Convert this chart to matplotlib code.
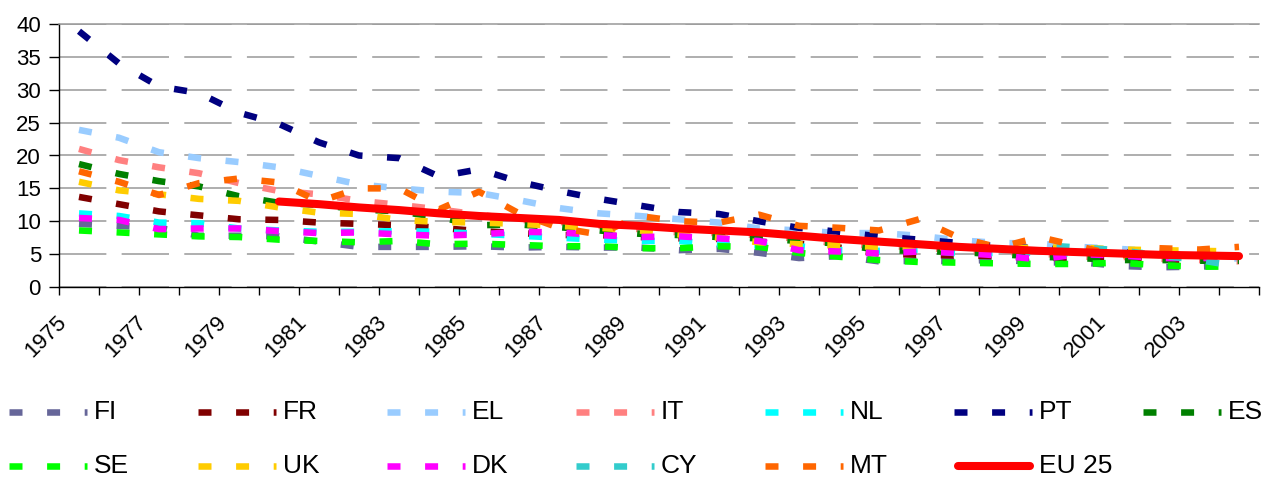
import numpy as np
import matplotlib
matplotlib.use("Agg")
import matplotlib.pyplot as plt
import matplotlib.transforms as mtrans
from matplotlib.lines import Line2D

plt.rcParams['font.family'] = ['Liberation Sans', 'DejaVu Sans']

years = list(range(1975, 2005))

FI = [9.6, 9.3, 9.0, 7.8, 7.8, 7.7, 6.9, 6.1, 6.1, 6.1, 6.2, 6.0, 6.1, 6.0, 6.0,
      5.6, 5.8, 5.2, 4.4, 4.7, 3.9, 4.0, 3.9, 4.2, 3.7, 3.8, 3.2, 3.0, 3.1, 3.3]
FR = [13.7, 12.6, 11.5, 10.9, 10.3, 10.2, 9.8, 9.6, 9.4, 9.0, 8.5, 8.2, 7.9, 7.9, 7.6,
      7.4, 7.3, 6.9, 6.6, 6.0, 5.1, 4.9, 4.8, 4.7, 4.4, 4.5, 4.5, 4.2, 4.1, 4.0]
EL = [23.9, 22.7, 20.5, 19.6, 19.0, 18.2, 16.9, 15.6, 15.0, 14.5, 14.3, 13.2, 12.0, 11.2, 10.8,
      10.3, 9.8, 8.9, 8.6, 8.2, 8.2, 7.8, 7.1, 6.7, 6.6, 6.1, 5.8, 5.4, 4.8, 4.3]
IT = [21.0, 19.3, 18.2, 17.3, 15.8, 14.6, 14.1, 13.1, 12.5, 11.8, 11.0, 10.2, 9.9, 9.3, 8.8,
      8.3, 8.2, 7.9, 7.3, 6.6, 6.2, 6.1, 5.5, 5.4, 5.1, 4.6, 4.6, 4.3, 4.1, 3.9]
NL = [11.2, 10.8, 9.8, 9.7, 8.9, 8.6, 8.4, 8.4, 8.5, 8.4, 8.1, 7.8, 7.5, 7.2, 7.0,
      7.0, 6.5, 6.3, 6.2, 5.6, 5.5, 5.7, 5.1, 5.2, 5.2, 5.1, 5.4, 5.0, 4.8, 4.4]
PT = [38.9, 34.0, 30.5, 29.5, 26.5, 24.8, 22.0, 20.0, 19.6, 16.8, 17.9, 16.0, 14.6, 13.4, 12.4,
      11.4, 11.1, 10.0, 9.0, 8.4, 7.7, 7.2, 6.7, 6.2, 5.9, 5.6, 5.3, 5.2, 4.6, 4.4]
ES = [18.7, 17.2, 16.1, 15.3, 13.8, 12.8, 12.5, 11.8, 11.5, 10.6, 9.4, 9.5, 9.1, 8.6, 8.1,
      7.9, 7.6, 7.4, 7.0, 6.6, 5.6, 5.5, 5.3, 5.0, 4.6, 4.4, 4.1, 4.1, 4.0, 4.0]
SE = [8.6, 8.3, 8.0, 7.7, 7.6, 7.2, 7.0, 6.8, 7.0, 6.5, 6.6, 6.4, 6.2, 6.2, 5.9,
      5.9, 6.2, 6.1, 5.2, 4.6, 4.1, 3.8, 3.7, 3.6, 3.5, 3.5, 3.7, 3.3, 3.1, 3.1]
UK = [16.0, 14.7, 14.1, 13.4, 13.1, 12.1, 11.3, 11.1, 10.2, 9.9, 9.8, 9.6, 9.3, 9.0, 8.6,
      8.0, 7.5, 6.8, 6.5, 6.3, 6.1, 6.1, 6.0, 5.8, 6.0, 6.0, 5.7, 5.6, 5.5, 5.4]
DK = [10.5, 10.2, 8.8, 8.9, 8.9, 8.5, 8.2, 8.3, 8.0, 7.8, 8.0, 8.4, 8.3, 7.9, 7.6,
      7.7, 7.4, 7.0, 5.6, 5.4, 5.1, 5.4, 5.2, 4.8, 4.2, 5.0, 4.8, 4.4, 4.4, 4.4]
CY = [None] * 24 + [6.4, 6.0, 5.6, 4.8, 4.1, 3.1]
MT = [17.6, 16.0, 14.0, 15.8, 16.5, 15.9, 13.0, 15.0, 15.0, 11.8, 14.5, 11.2, 9.0, 8.0, 10.8,
      10.0, 9.8, 11.0, 9.3, 9.0, 8.6, 10.3, 7.5, 6.0, 7.6, 6.2, 4.7, 5.9, 5.7, 6.1]
EU25 = [None] * 5 + [13.0, 12.6, 12.1, 11.7, 11.2, 10.8, 10.5, 10.2, 9.6, 9.3, 8.9, 8.6, 8.3,
                     7.8, 7.3, 6.9, 6.5, 6.1, 5.8, 5.5, 5.3, 5.1, 4.9, 4.8, 4.7]

names = ['FI', 'FR', 'EL', 'IT', 'NL', 'PT', 'ES', 'SE', 'UK', 'DK', 'CY', 'MT', 'EU 25']
series = [FI, FR, EL, IT, NL, PT, ES, SE, UK, DK, CY, MT, EU25]
colors = ['#666699', '#800000', '#99CCFF', '#FF8080', '#00FFFF', '#000080', '#008000',
          '#00FF00', '#FFCC00', '#FF00FF', '#33CCCC', '#FF6600', '#FF0000']

W, H = 1264, 480
fig = plt.figure(figsize=(W / 100, H / 100), dpi=100)
ax = fig.add_axes([59 / W, 1 - 287 / H, 1200 / W, 263 / H])

LW = 4.7                      # pt
lw_px = LW * 100 / 72
DASH, GAP = 13 / lw_px, 24.6 / lw_px
PERIOD = 37.6

x = np.arange(len(years))
for name, vals, col in zip(names, series, colors):
    v = np.array([np.nan if a is None else a for a in vals], dtype=float)
    ok = ~np.isnan(v)
    xs, vs = x[ok], v[ok]
    if name == 'EU 25':
        ax.plot(xs, vs, color=col, lw=5.8, solid_capstyle='round', zorder=5)
    else:
        # keep the dash phase in step with series that start in 1975
        off = (xs[0] * 40.0) % PERIOD / lw_px
        ax.plot(xs, vs, color=col, lw=LW, linestyle=(off, (DASH, GAP)),
                dash_capstyle='butt', zorder=3)

ax.set_xlim(-0.5, len(years) - 0.5)
ax.set_ylim(0, 40)
ax.set_yticks(np.arange(0, 41, 5))
ax.tick_params(axis='y', labelsize=16, length=7, width=1, pad=6, direction='out')

ax.set_xticks(np.arange(-0.5, len(years), 1.0))
ax.set_xticklabels([])
ax.set_xticks(x[::2], minor=True)
ax.set_xticklabels([str(y) for y in years[::2]], minor=True, rotation=45,
                   ha='right', va='top', fontsize=16)
ax.tick_params(axis='x', which='major', length=6, width=1, direction='out')
ax.tick_params(axis='x', which='minor', length=0, pad=18)
shift = mtrans.ScaledTranslation(-8 / 100, 0, fig.dpi_scale_trans)
for lab in ax.get_xticklabels(minor=True):
    lab.set_transform(lab.get_transform() + shift)

ax.yaxis.grid(True, color='#999999', lw=1.1, linestyle=(0, (31, 10)))
ax.set_axisbelow(True)
ax.spines['right'].set_visible(False)
ax.spines['top'].set_color('#999999')
ax.spines['top'].set_linewidth(1.1)
ax.spines['left'].set_linewidth(1.0)
ax.spines['bottom'].set_linewidth(1.0)

# legend, laid out like the original: 7 fixed-width columns, 2 rows
for i, (name, col) in enumerate(zip(names, colors)):
    c, r = i % 7, i // 7
    x0 = 9 + 189 * c
    yy = 1 - (412 + 54 * r) / H
    if name == 'EU 25':
        ln = Line2D([(x0 + 4) / W, (x0 + 76) / W], [yy, yy], color=col, lw=5.8,
                    solid_capstyle='round', transform=fig.transFigure)
    else:
        ln = Line2D([x0 / W, (x0 + 78) / W], [yy, yy], color=col, lw=LW,
                    linestyle=(0, (DASH, GAP)), dash_capstyle='butt',
                    transform=fig.transFigure)
    fig.add_artist(ln)
    fig.text((x0 + 85) / W, yy, name, fontsize=19, va='center', ha='left')

fig.savefig('out.png', dpi=100)
